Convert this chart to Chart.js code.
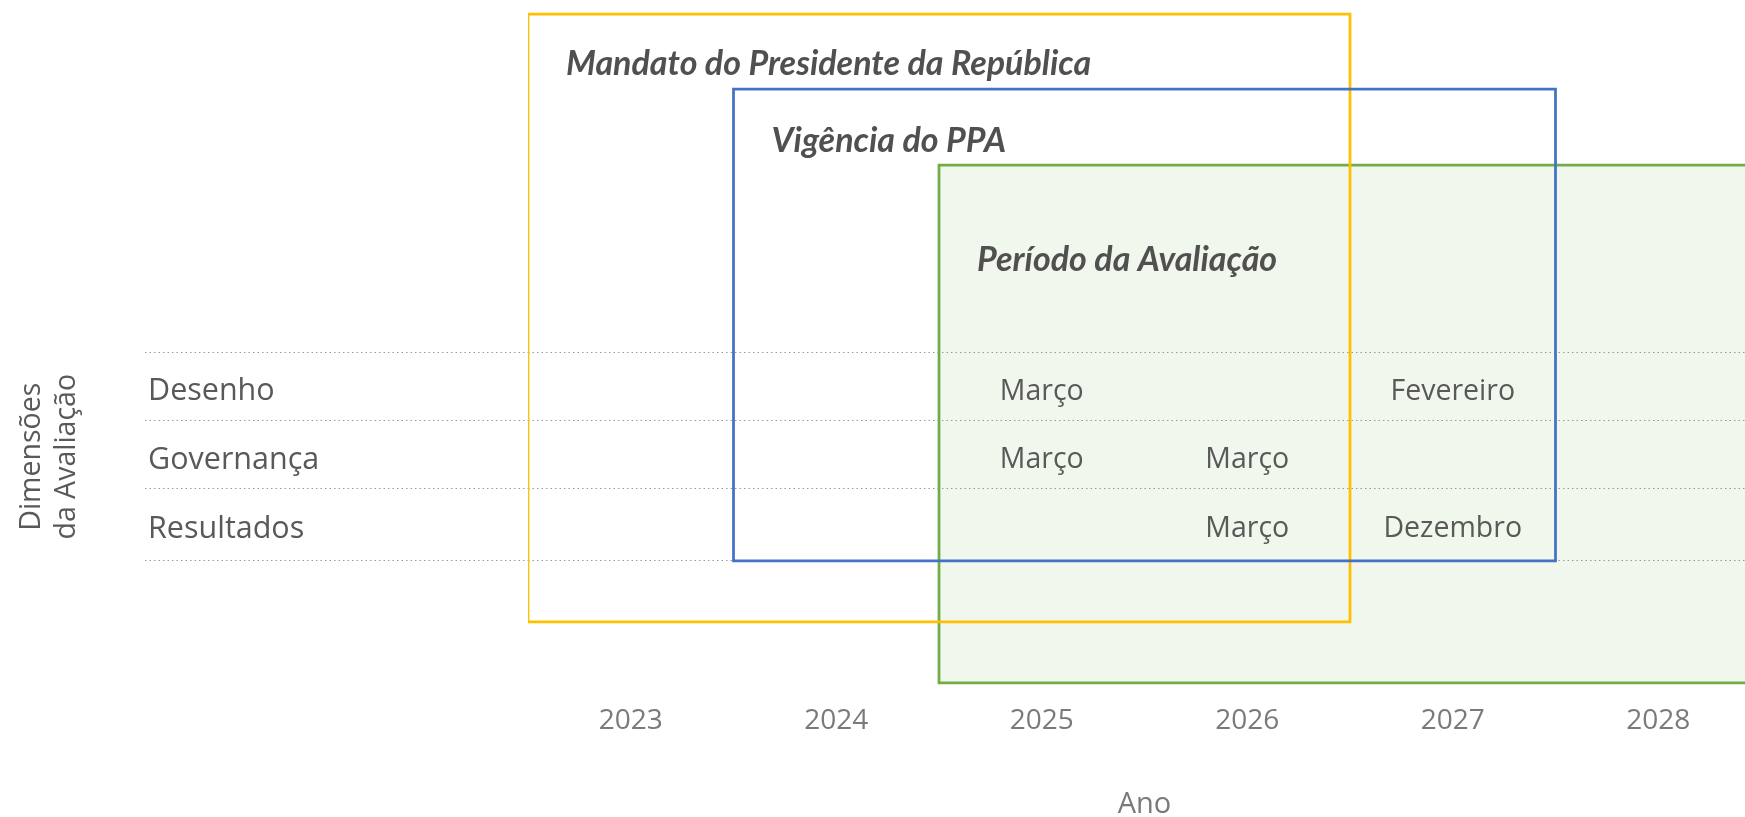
<!DOCTYPE html>
<html><head><meta charset="utf-8">
<script src="https://cdn.jsdelivr.net/npm/chart.js@4"></script>
<style>html,body{margin:0;padding:0;background:#fff;overflow:hidden}#wrap{width:1745px;height:817px;overflow:hidden}</style>
</head><body><div id="wrap"><canvas id="c" width="1761" height="817"></canvas></div>
<script>
// ---- data ----
const years = [2023, 2024, 2025, 2026, 2027, 2028];
const dimensions = ['Desenho', 'Governança', 'Resultados'];
const dimensionRows = [0.575, 1.58, 2.6];
const rowBounds = [0, 1, 2, 3.066];
const periodNames = ['Mandato do Presidente da República', 'Vigência do PPA', 'Período da Avaliação'];
const periodStart = [2022.5, 2023.5, 2024.5];
const periodEnd = [2026.5, 2027.5, 2029.5];
const periodTop = [-4.978, -3.875, -2.757];
const periodBottom = [3.963, 3.066, 4.86];
const periodLabelLevel = [-4.238, -3.11, -1.36];
const desenhoMonths = [null, null, 'Março', null, 'Fevereiro', null];
const governancaMonths = [null, null, 'Março', 'Março', null, null];
const resultadosMonths = [null, null, null, 'Março', 'Dezembro', null];
const monthRows = [desenhoMonths, governancaMonths, resultadosMonths];
const yTitle = ['Dimensões', 'da Avaliação'];
const xTitle = 'Ano';

function outline(i) {
  const x0 = periodStart[i], x1 = periodEnd[i], y0 = periodTop[i], y1 = periodBottom[i];
  return [{x:x0,y:y0},{x:x1,y:y0},{x:x1,y:y1},{x:x0,y:y1},{x:x0,y:y0}];
}
const lineBase = {pointRadius:0, pointHoverRadius:0, tension:0, fill:false, borderWidth:2.75,
  borderJoinStyle:'miter', borderCapStyle:'square'};

const textPlugin = {
  id: 'texts',
  afterDatasetsDraw(chart) {
    const {ctx, scales:{x, y}} = chart;
    ctx.save();
    ctx.textBaseline = 'middle';
    // period titles
    ctx.font = 'italic bold 34px Lato';
    ctx.fillStyle = '#505050';
    ctx.textAlign = 'left';
    periodNames.forEach((n, i) => {
      ctx.fillText(n, x.getPixelForValue(periodStart[i]) + 38, y.getPixelForValue(periodLabelLevel[i]));
    });
    // month milestones
    ctx.font = '28.5px "Open Sans"';
    ctx.fillStyle = '#595959';
    ctx.textAlign = 'center';
    monthRows.forEach((row, r) => row.forEach((m, k) => {
      if (m) ctx.fillText(m, x.getPixelForValue(years[k]), y.getPixelForValue(dimensionRows[r]));
    }));
    // y axis title
    const yc = (y.getPixelForValue(rowBounds[0]) + y.getPixelForValue(rowBounds[rowBounds.length - 1])) / 2;
    ctx.font = '28.5px "Open Sans"';
    ctx.fillStyle = '#595959';
    const lineX = [32, 67];
    yTitle.forEach((t, i) => {
      ctx.save();
      ctx.translate(lineX[i], yc);
      ctx.rotate(-Math.PI / 2);
      ctx.fillText(t, 0, 0);
      ctx.restore();
    });
    ctx.restore();
  }
};

const gridCol = (c) => (c.tick && rowBounds.some(v => Math.abs(v - c.tick.value) < 1e-6)) ? '#9a9a9a' : 'rgba(0,0,0,0)';

new Chart(document.getElementById('c'), {
  type: 'line',
  data: {
    datasets: [
      Object.assign({}, lineBase, {label:'fill', data:[{x:periodStart[2],y:periodTop[2]},{x:periodEnd[2],y:periodTop[2]}],
        fill:{value:periodBottom[2]}, backgroundColor:'rgba(112,173,71,0.1)', borderWidth:0, borderColor:'rgba(0,0,0,0)', order:4}),
      Object.assign({}, lineBase, {label:periodNames[2], data:outline(2), borderColor:'#70AD47', order:3}),
      Object.assign({}, lineBase, {label:periodNames[0], data:outline(0), borderColor:'#FFC000', order:2}),
      Object.assign({}, lineBase, {label:periodNames[1], data:outline(1), borderColor:'#4472C4', order:1})
    ]
  },
  options: {
    responsive: false,
    animation: false,
    devicePixelRatio: 1,
    events: [],
    layout: {padding: {left:148, right:0, top:0, bottom:0}},
    plugins: {legend:{display:false}, tooltip:{enabled:false}},
    scales: {
      x: {
        type: 'linear', min: 2022.5, max: 2028.5,
        afterBuildTicks: (s) => { s.ticks = years.map(v => ({value:v})); },
        afterFit: (s) => { s.height = 122; s.paddingLeft = 0; s.paddingRight = 0; },
        grid: {display:false, drawTicks:false},
        border: {display:false},
        ticks: {autoSkip:false, maxRotation:0, padding:9.5, color:'#7a7a7a',
          font:{family:'"Open Sans"', size:28}, callback: (v) => String(v)},
        title: {display:true, text:xTitle, color:'#7a7a7a', font:{family:'"Open Sans"', size:29, lineHeight:0.875}, padding:{top:0,bottom:0}}
      },
      y: {
        type: 'linear', reverse: true, min: -5.184, max: 5.037,
        afterBuildTicks: (s) => { s.ticks = rowBounds.concat(dimensionRows).sort((a,b)=>a-b).map(v => ({value:v})); },
        afterFit: (s) => { s.width = 380; s.paddingTop = 0; s.paddingBottom = 0; },
        grid: {display:true, drawOnChartArea:true, drawTicks:true, tickLength:383, color:gridCol, tickColor:gridCol,
          lineWidth:1, tickWidth:1, tickBorderDash:[1.5,3]},
        border: {display:false, dash:[1.5,3]},
        ticks: {autoSkip:false, crossAlign:'far', padding:0, color:'#595959', font:{family:'"Open Sans"', size:30.5},
          callback: (v) => { const i = dimensionRows.findIndex(r => Math.abs(r - v) < 1e-6); return i >= 0 ? dimensions[i] : ''; }}
      }
    }
  },
  plugins: [textPlugin]
});
</script>
</body></html>
